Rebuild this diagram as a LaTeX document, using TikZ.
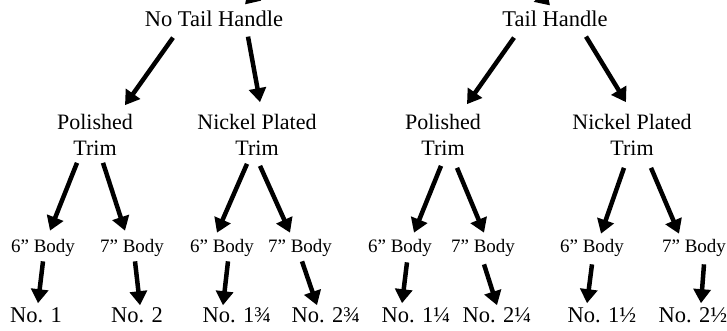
\documentclass[tikz,border=0pt]{standalone}
\usepackage{fontspec}
\setmainfont{Liberation Serif}
\usetikzlibrary{arrows.meta,calc}

\tikzset{
  arr/.style={line width=4.5pt,-{Triangle[length=14pt,width=17pt]}},
  lvla/.style={inner sep=0pt,font=\fontsize{22.5}{26}\selectfont},
  lvlb/.style={inner sep=0pt,align=center,font=\fontsize{22}{26}\selectfont},
  lvlc/.style={inner sep=0pt,font=\fontsize{19}{22}\selectfont},
  lvld/.style={inner sep=0pt,font=\fontsize{22.5}{26}\selectfont}
}

\begin{document}
\begin{tikzpicture}[x=1pt,y=-1pt]
  \useasboundingbox (0,0) rectangle (727,330);
  \clip (0,0) rectangle (727,330);

  % handles
  \node[lvla] (nth) at (214,18.5) {No Tail Handle};
  \node[lvla] (th) at (555,18.5) {Tail Handle};
  \coordinate (top) at (395,-150);

  % trims
  \node[lvlb] (pl1) at (95,135) {Polished\\Trim};
  \node[lvlb] (np1) at (257,135) {Nickel Plated\\Trim};
  \node[lvlb] (pl2) at (443,135) {Polished\\Trim};
  \node[lvlb] (np2) at (632,135) {Nickel Plated\\Trim};

  % bodies
  \node[lvlc] (b1) at (43,247.5) {6” Body};
  \node[lvlc] (b2) at (132,247.5) {7” Body};
  \node[lvlc] (b3) at (222,247.5) {6” Body};
  \node[lvlc] (b4) at (300,247.5) {7” Body};
  \node[lvlc] (b5) at (400,247.5) {6” Body};
  \node[lvlc] (b6) at (483,247.5) {7” Body};
  \node[lvlc] (b7) at (592,247.5) {6” Body};
  \node[lvlc] (b8) at (694,247.5) {7” Body};

  % numbers
  \node[lvld] (n1) at (36,315) {No. 1};
  \node[lvld] (n2) at (137,315) {No. 2};
  \node[lvld] (n3) at (237,315) {No. 1¾};
  \node[lvld] (n4) at (326,315) {No. 2¾};
  \node[lvld] (n5) at (416,315) {No. 1¼};
  \node[lvld] (n6) at (497,315) {No. 2¼};
  \node[lvld] (n7) at (602,315) {No. 1½};
  \node[lvld] (n8) at (693,315) {No. 2½};

  % arrows into the handles (cut off at the top)
  \draw[arr] (top) -- ($(nth.north)+(31,-6)$);
  \draw[arr] (top) -- ($(th.north)+(-5,-5)$);

  % handles to trims
  \draw[arr] ($(nth.south)+(-41,11)$) -- ($(pl1.north)+(30,-9)$);
  \draw[arr] ($(nth.south)+(34,10)$) -- ($(np1.north)+(3,-12)$);
  \draw[arr] ($(th.south)+(-41,11)$) -- ($(pl2.north)+(24,-10)$);
  \draw[arr] ($(th.south)+(31,10)$) -- ($(np2.north)+(-6,-12)$);

  % trims to bodies
  \draw[arr] ($(pl1.south)+(-18,7)$) -- ($(b1.north)+(7,-8)$);
  \draw[arr] ($(pl1.south)+(8,7)$) -- ($(b2.north)+(-7,-8)$);
  \draw[arr] ($(np1.south)+(-10,8)$) -- ($(b3.north)+(-5,-6)$);
  \draw[arr] ($(np1.south)+(3,10)$) -- ($(b4.north)+(-10,-6)$);
  \draw[arr] ($(pl2.south)+(-2,10)$) -- ($(b5.north)+(14,-6)$);
  \draw[arr] ($(pl2.south)+(14,12)$) -- ($(b6.north)+(1,-6)$);
  \draw[arr] ($(np2.south)+(-8,12)$) -- ($(b7.north)+(9,-5)$);
  \draw[arr] ($(np2.south)+(19,12)$) -- ($(b8.north)+(-15,-5)$);

  % bodies to numbers
  \draw[arr] ($(b1.south)+(0,5)$) -- ($(n1.north)+(2,-4)$);
  \draw[arr] ($(b2.south)+(3,5)$) -- ($(n2.north)+(3,-2)$);
  \draw[arr] ($(b3.south)+(6,5)$) -- ($(n3.north)+(-14,-2)$);
  \draw[arr] ($(b4.south)+(2,5)$) -- ($(n4.north)+(-9,-2)$);
  \draw[arr] ($(b5.south)+(7,6)$) -- ($(n5.north)+(-14,-4)$);
  \draw[arr] ($(b6.south)+(1,8)$) -- ($(n6.north)+(0,-2)$);
  \draw[arr] ($(b7.south)+(0,8)$) -- ($(n7.north)+(-15,-4)$);
  \draw[arr] ($(b8.south)+(10,8)$) -- ($(n8.north)+(8,-4)$);
\end{tikzpicture}
\end{document}
